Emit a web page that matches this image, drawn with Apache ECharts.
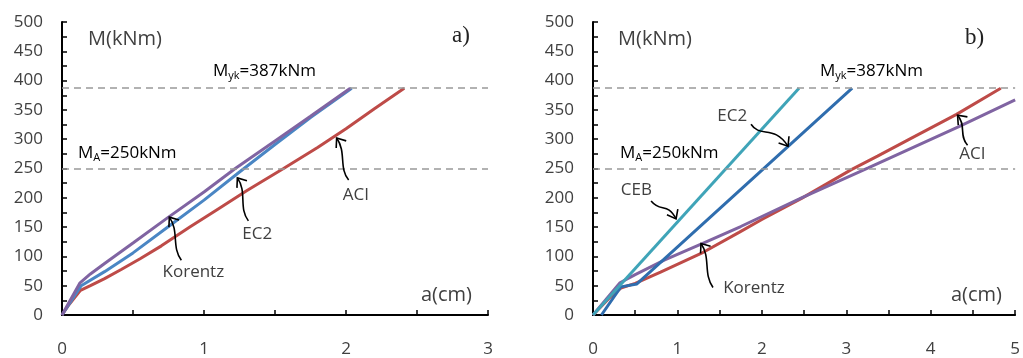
<!DOCTYPE html>
<html><head><meta charset="utf-8">
<script src="https://cdn.jsdelivr.net/npm/echarts@6/dist/echarts.min.js"></script>
<style>html,body{margin:0;padding:0;background:#fff}#c{width:1023px;height:358px}</style>
</head><body><div id="c"></div>
<script>
// ---- tick labels ----
const yTickLabels = [0, 50, 100, 150, 200, 250, 300, 350, 400, 450, 500];
const xTickLabelsA = [0, 1, 2, 3];
const xTickLabelsB = [0, 1, 2, 3, 4, 5];
const refLevels = [387, 250];

// ---- panel a) ----
const aKorentz = [[0,0],[0.127,55],[0.2,70],[0.3,88],[0.5,123],[0.75,167],[1.0,210],[1.22,250],[1.5,297],[1.75,339],[2.03,387]];
const aEC2 = [[0,0],[0.135,50],[0.3,74],[0.5,106],[0.75,151],[1.0,196],[1.25,244],[1.5,291],[1.75,337],[2.04,387]];
const aACI = [[0,0],[0.05,18],[0.13,42],[0.2,50],[0.3,62],[0.42,78],[0.55,96],[0.7,118],[0.9,150],[1.1,181],[1.3,212],[1.56,250],[1.8,286],[2.0,318],[2.2,352],[2.41,387]];

// ---- panel b) ----
const bCEB = [[0,0],[2.44,387]];
const bEC2 = [[0.1,0],[0.33,48],[0.52,53],[3.07,387]];
const bKorentz = [[0,0],[0.32,55],[0.5,69],[0.85,94],[1.28,121],[1.75,151],[2.47,200],[3.26,251],[4.34,322],[5.0,367]];
const bACI = [[0,0],[0.1,15],[0.2,30],[0.33,46],[0.5,54],[0.8,73],[1.28,105],[1.73,141],[2.0,163],[2.47,199],[3.06,248],[3.37,271],[3.8,304],[4.3,342],[4.83,387]];

const C = {purple:'#8064A2', blueA:'#4A86C4', red:'#BE4B48', teal:'#3FA4B8', blueB:'#2F6DAE'};
const TXT = '#404040';
const FONT = 'Open Sans';

const chart = echarts.init(document.getElementById('c'), null, {renderer:'canvas'});

function yAxis(gi){
  return {gridIndex:gi, type:'value', min:0, max:500, interval:25,
    axisLine:{show:true, lineStyle:{color:'#000', width:2}},
    axisTick:{show:true, inside:true, length:5, lineStyle:{color:'#000', width:1.5}},
    axisLabel:{margin:19, color:TXT, fontFamily:FONT, fontSize:17,
      formatter:v=> yTickLabels.includes(v) ? String(v) : ''},
    splitLine:{show:false}};
}
function xAxis(gi, max, labels){
  return {gridIndex:gi, type:'value', min:0, max:max, interval:0.5,
    axisLine:{show:true, onZero:false, lineStyle:{color:'#000', width:2}},
    axisTick:{show:true, inside:true, length:5, lineStyle:{color:'#000', width:1.5}},
    axisLabel:{margin:26, color:TXT, fontFamily:FONT, fontSize:17, showMaxLabel:true,
      formatter:v=> labels.includes(v) ? String(v) : ''},
    splitLine:{show:false}};
}
function line(gi, data, color, ml){
  const s = {type:'line', xAxisIndex:gi, yAxisIndex:gi, data:data, symbol:'none',
    lineStyle:{color:color, width:3}, z:3, silent:true};
  if (ml) s.markLine = {silent:true, symbol:'none', label:{show:false},
    lineStyle:{color:'#999', type:[7,5], width:1.5},
    data: refLevels.map(v=>({yAxis:v}))};
  return s;
}

chart.setOption({
  animation:false,
  grid:[{left:62, top:22, width:426, height:297},{left:593, top:22, width:425, height:297}],
  xAxis:[xAxis(0,3,xTickLabelsA), xAxis(1,5,xTickLabelsB)],
  yAxis:[yAxis(0), yAxis(1)],
  series:[
    line(0, aACI, C.red, true),
    line(0, aEC2, C.blueA),
    line(0, aKorentz, C.purple),
    line(1, bACI, C.red, true),
    line(1, bKorentz, C.purple),
    line(1, bEC2, C.blueB),
    line(1, bCEB, C.teal)
  ]
});

// ---- annotations ----
const P = (gi, pt) => chart.convertToPixel({gridIndex:gi}, pt);
const arrows = [
  {g:0, tip:[0.756,167], tail:[12,43], c1:[2,30], c2:[10,14]},
  {g:0, tip:[1.235,234], tail:[11,43], c1:[1,30], c2:[10,14]},
  {g:0, tip:[1.934,302], tail:[12,42], c1:[2,30], c2:[10,14]},
  {g:1, tip:[1.279,122], tail:[12,44], c1:[2,30], c2:[10,14]},
  {g:1, tip:[4.318,341], tail:[10,30], c1:[1,20], c2:[9,10]},
  {g:1, tip:[0.984,164], tail:[-25,-18], c1:[-15,-6], c2:[-9,-17]},
  {g:1, tip:[2.31,288], tail:[-37,-22], c1:[-28,-8], c2:[-14,-22]}
];
const labels = [
  {g:0, at:[0.925,72.5], t:'Korentz'},
  {g:0, at:[1.375,138], t:'EC2'},
  {g:0, at:[2.07,205], t:'ACI'},
  {g:1, at:[0.514,213], t:'CEB'},
  {g:1, at:[1.65,340], t:'EC2'},
  {g:1, at:[1.906,46], t:'Korentz'},
  {g:1, at:[4.494,273.7], t:'ACI'}
];
const gfx = [];
arrows.forEach(a=>{
  const [tx,ty] = P(a.g, a.tip);
  gfx.push({type:'bezierCurve', shape:{x1:tx+a.tail[0], y1:ty+a.tail[1], cpx1:tx+a.c1[0], cpy1:ty+a.c1[1], cpx2:tx+a.c2[0], cpy2:ty+a.c2[1], x2:tx, y2:ty},
    style:{stroke:'#000', lineWidth:1.6, fill:null}, z:10});
  let dx = a.c2[0], dy = a.c2[1]; const L = Math.hypot(dx,dy); dx/=L; dy/=L;
  const ang = 38*Math.PI/180, len = 10;
  const r = s => [tx + len*(dx*Math.cos(s*ang) - dy*Math.sin(s*ang)), ty + len*(dx*Math.sin(s*ang) + dy*Math.cos(s*ang))];
  const p1 = r(1), p2 = r(-1);
  gfx.push({type:'polyline', shape:{points:[p1,[tx,ty],p2]}, style:{stroke:'#000', lineWidth:1.6, fill:null}, z:10});
});
labels.forEach(l=>{
  const [x,y] = P(l.g, l.at);
  gfx.push({type:'text', x:x, y:y, style:{text:l.t, fill:TXT, font:'17px "Open Sans"', align:'center', verticalAlign:'middle'}, z:11});
});
const rich = {m:{fontFamily:FONT, fontSize:17, color:TXT}, s:{fontFamily:FONT, fontSize:11, color:TXT, padding:[9,0,0,0]}};
const texts = [
  {x:88, y:39, t:'M(kNm)', size:20},
  {x:618, y:39, t:'M(kNm)', size:20},
  {x:421, y:295, t:'a(cm)', size:20},
  {x:951, y:295, t:'a(cm)', size:20},
];
texts.forEach(t=> gfx.push({type:'text', x:t.x, y:t.y, style:{text:t.t, fill:TXT, font:t.size+'px "Open Sans"', verticalAlign:'middle'}, z:11}));
gfx.push({type:'text', x:452, y:36, style:{text:'a)', fill:'#222', font:'23px "Liberation Serif"', verticalAlign:'middle'}, z:11});
gfx.push({type:'text', x:965, y:38, style:{text:'b)', fill:'#222', font:'23px "Liberation Serif"', verticalAlign:'middle'}, z:11});
[[213,71,'yk','=387kNm'],[820,71,'yk','=387kNm'],[78,153,'A','=250kNm'],[620,153,'A','=250kNm']].forEach(d=>{
  gfx.push({type:'text', x:d[0], y:d[1], style:{text:'{m|M}{s|'+d[2]+'}{m|'+d[3]+'}', rich:rich, verticalAlign:'middle'}, z:11});
});
chart.setOption({graphic:gfx});
</script></body></html>
